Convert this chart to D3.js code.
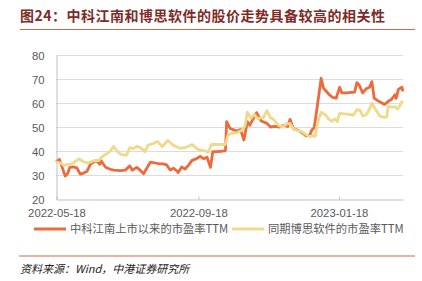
<!DOCTYPE html>
<html>
<head>
<meta charset="utf-8">
<script src="https://cdn.jsdelivr.net/npm/d3@7"></script>
<style>
  body { margin: 0; background: #fff; }
  svg { display: block; }
</style>
</head>
<body>
<svg id="chart" width="422" height="281"></svg>
<script>
// 中科江南 PE TTM
let zkjnDates = ["2022-05-18","2022-05-21","2022-05-23","2022-05-26","2022-05-28","2022-05-30","2022-06-02","2022-06-05","2022-06-08","2022-06-11",
    "2022-06-14","2022-06-17","2022-06-20","2022-06-22","2022-06-25","2022-06-26","2022-06-30","2022-07-04","2022-07-07","2022-07-13",
    "2022-07-17","2022-07-21","2022-07-23","2022-07-27","2022-07-30","2022-08-02","2022-08-05","2022-08-08","2022-08-12","2022-08-16",
    "2022-08-19","2022-08-22","2022-08-25","2022-08-28","2022-08-31","2022-09-01","2022-09-04","2022-09-07","2022-09-10","2022-09-13",
    "2022-09-17","2022-09-20","2022-09-23","2022-09-26","2022-09-28","2022-09-29","2022-10-01","2022-10-04","2022-10-09","2022-10-12",
    "2022-10-13","2022-10-16","2022-10-22","2022-10-25","2022-10-28","2022-10-31","2022-11-02","2022-11-08","2022-11-12","2022-11-17",
    "2022-11-20","2022-11-24","2022-11-28","2022-12-02","2022-12-05","2022-12-07","2022-12-10","2022-12-13","2022-12-15","2022-12-18",
    "2022-12-21","2022-12-24","2022-12-26","2022-12-28","2022-12-31","2023-01-03","2023-01-05","2023-01-08","2023-01-10","2023-01-13",
    "2023-01-16","2023-01-19","2023-01-21","2023-01-25","2023-01-29","2023-02-01","2023-02-03","2023-02-05","2023-02-08","2023-02-11",
    "2023-02-14","2023-02-16","2023-02-18","2023-02-21","2023-02-24","2023-02-27","2023-03-02","2023-03-05","2023-03-08","2023-03-09",
    "2023-03-11","2023-03-14","2023-03-15"];
let zkjnPE = [35.5,36.5,33.7,29.6,30.5,33.2,33.4,33.0,30.4,30.8,
    31.6,34.6,35.5,36.0,34.5,36.0,33.2,32.4,32.0,31.8,
    32.0,33.8,32.0,33.2,32.0,30.5,33.0,35.4,35.0,34.6,
    34.6,34.2,32.1,32.8,31.6,31.0,33.3,32.5,34.1,36.1,
    36.8,37.8,36.8,37.4,34.6,33.2,39.7,39.7,39.9,40.2,
    52.2,49.4,48.3,49.0,44.6,52.2,50.7,56.0,52.5,51.5,
    50.0,50.3,50.0,50.8,50.2,53.2,49.2,48.8,48.3,47.4,
    46.3,46.5,48.8,49.7,59.9,70.3,66.2,64.6,63.5,62.3,
    62.0,66.5,64.2,64.2,64.4,64.5,68.5,67.5,64.2,65.9,
    66.6,68.9,62.0,61.0,60.2,59.4,60.6,61.5,63.4,61.9,
    65.7,66.6,64.8];

// 博思软件 PE TTM
let bsrjDates = ["2022-05-18","2022-05-22","2022-05-25","2022-05-30","2022-06-02","2022-06-07","2022-06-11","2022-06-15","2022-06-20","2022-06-24",
    "2022-06-27","2022-06-30","2022-07-04","2022-07-07","2022-07-10","2022-07-13","2022-07-18","2022-07-21","2022-07-24","2022-07-27",
    "2022-07-31","2022-08-03","2022-08-06","2022-08-11","2022-08-14","2022-08-18","2022-08-23","2022-08-28","2022-09-03","2022-09-08",
    "2022-09-13","2022-09-18","2022-09-24","2022-09-27","2022-09-30","2022-10-05","2022-10-12","2022-10-14","2022-10-17","2022-10-22",
    "2022-10-26","2022-10-29","2022-10-31","2022-11-03","2022-11-06","2022-11-09","2022-11-14","2022-11-17","2022-11-20","2022-11-22",
    "2022-11-27","2022-11-30","2022-12-04","2022-12-07","2022-12-10","2022-12-13","2022-12-17","2022-12-21","2022-12-24","2022-12-27",
    "2022-12-29","2022-12-31","2023-01-03","2023-01-07","2023-01-09","2023-01-12","2023-01-15","2023-01-17","2023-01-19","2023-01-25",
    "2023-01-31","2023-02-03","2023-02-06","2023-02-08","2023-02-11","2023-02-13","2023-02-16","2023-02-19","2023-02-23","2023-02-27",
    "2023-03-01","2023-03-02","2023-03-06","2023-03-08","2023-03-10","2023-03-12","2023-03-14","2023-03-15"];
let bsrjPE = [35.5,35.0,34.0,34.5,35.0,36.7,35.5,35.0,36.0,36.0,
    37.6,38.6,39.9,41.9,40.0,38.6,38.2,41.4,41.0,41.9,
    41.2,39.7,42.5,43.2,44.0,41.8,44.4,42.3,41.1,41.6,
    42.7,40.7,40.1,39.5,42.8,42.7,42.7,46.5,47.3,47.6,
    48.6,50.5,56.2,53.6,55.2,53.5,54.0,56.8,53.8,53.5,
    50.7,50.0,51.2,51.5,49.2,48.5,48.1,46.8,46.0,46.4,
    46.1,52.1,56.2,55.0,53.6,52.4,53.4,52.2,55.7,55.4,
    55.0,57.2,56.8,54.6,55.1,56.5,59.9,57.5,54.5,54.0,
    54.2,58.6,58.3,58.5,57.5,58.6,60.5,60.0];

let yTicks = [20, 30, 40, 50, 60, 70, 80];
let xTickLabels = ["2022-05-18", "2022-09-18", "2023-01-18"];
let legendNames = ["中科江南上市以来的市盈率TTM", "同期博思软件的市盈率TTM"];
let titleText = "图24：中科江南和博思软件的股价走势具备较高的相关性";
let sourceText = "资料来源：Wind，中港证券研究所";

let parseDate = d3.timeParse("%Y-%m-%d");
let colors = ["#EE6A3C", "#F1D98B"];
let cjk = "'Noto Sans CJK SC', sans-serif";
let latin = "'Liberation Sans', Arial, sans-serif";

let svg = d3.select("#chart");

// Plot area
let plotLeft = 56, plotRight = 403, plotTop = 55, plotBottom = 199;

let x = d3.scaleTime()
    .domain([parseDate("2022-05-18"), parseDate("2023-03-15")])
    .range([plotLeft, plotRight]);
let y = d3.scaleLinear()
    .domain([20, 80])
    .range([plotBottom, plotTop]);

// Title and rules
svg.append("text")
    .attr("x", 20)
    .attr("y", 21)
    .attr("font-family", cjk)
    .attr("font-weight", "bold")
    .attr("font-size", 14)
    .attr("letter-spacing", 0.5)
    .attr("fill", "#7E2B27")
    .text(titleText);

svg.append("line")
    .attr("x1", 20).attr("x2", 415)
    .attr("y1", 29.5).attr("y2", 29.5)
    .style("stroke", "#C9694E")
    .style("stroke-width", 1);

svg.append("line")
    .attr("x1", 19).attr("x2", 415)
    .attr("y1", 256).attr("y2", 256)
    .style("stroke", "#D9674C")
    .style("stroke-width", 1);

svg.append("text")
    .attr("x", 20)
    .attr("y", 273)
    .attr("font-family", cjk)
    .attr("font-style", "italic")
    .attr("font-size", 11)
    .attr("fill", "#222")
    .text(sourceText);

// Grid lines
svg.append("g")
    .selectAll("line")
    .data(yTicks.slice(1))
    .enter()
    .append("line")
    .attr("x1", plotLeft)
    .attr("x2", plotRight)
    .attr("y1", (d) => y(d) + 0.5)
    .attr("y2", (d) => y(d) + 0.5)
    .style("stroke", "#DCDCDC")
    .style("stroke-width", 1);

// Y axis
let yAxis = svg.append("g")
    .attr("transform", `translate(${plotLeft + 0.5},0.5)`)
    .call(d3.axisLeft(y).tickValues(yTicks).tickSize(0).tickPadding(12));
yAxis.select(".domain").style("stroke", "#BFBFBF");
yAxis.selectAll("text")
    .attr("font-family", latin)
    .attr("font-size", 11.3)
    .attr("fill", "#595959");

// X axis
let xAxis = svg.append("g")
    .attr("transform", `translate(0.5,${plotBottom + 0.5})`)
    .call(d3.axisBottom(x)
        .tickValues(xTickLabels.map(parseDate))
        .tickFormat(d3.timeFormat("%Y-%m-%d"))
        .tickSizeInner(-3)
        .tickSizeOuter(0)
        .tickPadding(9));
xAxis.select(".domain").style("stroke", "#BFBFBF");
xAxis.selectAll("line").style("stroke", "#BFBFBF");
xAxis.selectAll("text")
    .attr("font-family", latin)
    .attr("font-size", 11.3)
    .attr("fill", "#595959");

// Series lines
let line = d3.line()
    .x((d) => x(d.date))
    .y((d) => y(d.value));

let series = [
    zkjnDates.map((d, i) => ({ date: parseDate(d), value: zkjnPE[i] })),
    bsrjDates.map((d, i) => ({ date: parseDate(d), value: bsrjPE[i] }))
];

svg.append("g")
    .selectAll("path")
    .data(series)
    .enter()
    .append("path")
    .attr("d", line)
    .attr("fill", "none")
    .style("stroke", (d, i) => colors[i])
    .style("stroke-width", 2.8)
    .style("stroke-linejoin", "round");

// Legend
let legendX = [34, 232];
let legend = svg.append("g")
    .selectAll("g")
    .data(legendNames)
    .enter()
    .append("g")
    .attr("transform", (d, i) => `translate(${legendX[i]},229)`);

legend.append("line")
    .attr("x1", 0).attr("x2", 32)
    .attr("y1", 0).attr("y2", 0)
    .style("stroke", (d, i) => colors[i])
    .style("stroke-width", 3);

legend.append("text")
    .attr("x", 36)
    .attr("y", 4)
    .attr("font-family", cjk)
    .attr("font-size", 11.3)
    .attr("fill", "#595959")
    .text((d) => d);
</script>
</body>
</html>
